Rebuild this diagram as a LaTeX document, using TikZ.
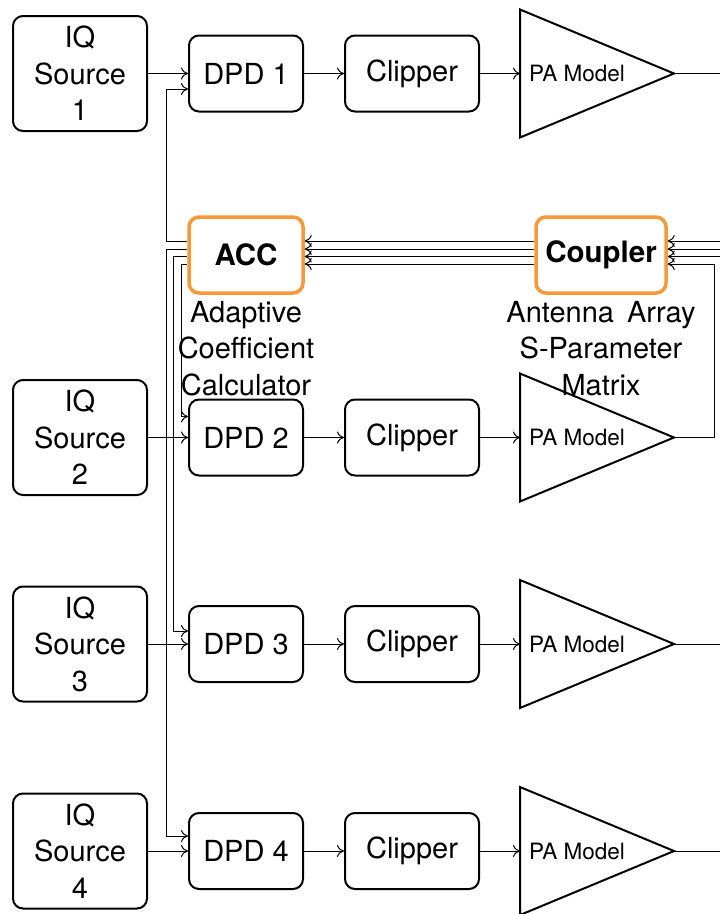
\documentclass[tikz,border=0pt]{standalone}
\usepackage{fontspec}
\setmainfont{TeX Gyre Heros}
\usetikzlibrary{arrows.meta,calc}
\definecolor{accorange}{RGB}{248,152,56}
\begin{document}
\begin{tikzpicture}[x=1pt,y=-1pt,
  bigfont/.style={font=\fontsize{29}{36.5}\selectfont},
  srcbox/.style={draw, line width=2pt, rounded corners=10pt, align=center, bigfont, inner sep=0pt, minimum width=134pt, minimum height=115pt},
  blkbox/.style={draw, line width=2pt, rounded corners=10pt, align=center, bigfont, inner sep=0pt, minimum width=114pt, minimum height=76pt},
  hlbox/.style={draw=accorange, line width=3.5pt, rounded corners=10pt, align=center, font=\fontsize{29.5}{36}\selectfont\bfseries, inner sep=0pt, minimum height=76pt, fill=white},
  lbl/.style={bigfont, align=center, inner sep=0pt, anchor=north},
  conn/.style={line width=1pt, -{To[length=7pt,width=12pt]}},
  wire/.style={line width=1pt},
  tri/.style={draw, line width=2pt, line join=miter}
]
\useasboundingbox (0,0) rectangle (720,914);

\foreach \i/\c in {1/73.5,2/437.5,3/644,4/851} {
  \node[srcbox] (iq\i) at (80,\c) {IQ\\Source\\\i};
  \node[blkbox] (dpd\i) at (246,\c) {DPD \i};
  \node[blkbox, minimum width=134pt] (clip\i) at (412,\c) {Clipper};
  \coordinate (pain\i) at (520,\c);
  \coordinate (paout\i) at (674,\c);
  \draw[tri] (520,\c-64) -- (paout\i) -- (520,\c+64) -- cycle;
  \node[font=\fontsize{22.5}{27}\selectfont, inner sep=0pt] (pa\i) at (577,\c) {PA Model};
  \draw[conn] (iq\i) -- (dpd\i);
  \draw[conn] (dpd\i) -- (clip\i);
  \draw[conn] (clip\i) -- (pain\i);
}
\foreach \i/\c in {1/73.5,3/644,4/851} {
  \coordinate (e\i) at (720,\c);
  \draw[wire] (paout\i) -- (e\i);
}

\node[hlbox, minimum width=114pt] (acc) at (246,255) {ACC};
\node[hlbox, minimum width=130pt] (coupler) at (601,255) {Coupler};
\node[lbl] (acclbl) at (246,301) {Adaptive\\Coefficient\\Calculator};
\node[lbl] (couplbl) at (601,301) {Antenna\hspace{0.45em}Array\\S-Parameter\\Matrix};

\foreach \k/\dy in {1/-14,2/-6,3/1.5,4/9} {
  \coordinate (aw\k) at ($(acc.west)+(0,\dy)$);
  \coordinate (ae\k) at ($(acc.east)+(0,\dy)$);
  \coordinate (cw\k) at ($(coupler.west)+(0,\dy)$);
  \coordinate (ce\k) at ($(coupler.east)+(0,\dy)$);
  \draw[conn] (cw\k) -- (ae\k);
}
\foreach \k/\dy in {1/-14,2/-6,3/1.5} {
  \coordinate (r\k) at ($(720,255)+(0,\dy)$);
  \draw[conn] (r\k) -- (ce\k);
}

% bus x positions
\coordinate (bxa) at (166,0);
\coordinate (bxb) at (173,0);
\coordinate (bxc) at (181,0);
\coordinate (bxr) at (714,0);

\coordinate (d1a) at ($(dpd1.west)+(0,15.5)$);
\coordinate (d2a) at ($(dpd2.west)+(0,-21)$);
\coordinate (d3a) at ($(dpd3.west)+(0,-13)$);
\coordinate (d4a) at ($(dpd4.west)+(0,-15)$);

\draw[conn] (aw1) -| (bxa |- d1a) -- (d1a);
\draw[conn] (aw2) -| (bxa |- d4a) -- (d4a);
\draw[conn] (aw3) -| (bxb |- d3a) -- (d3a);
\draw[conn] (aw4) -| (bxc |- d2a) -- (d2a);

\draw[conn] (paout2) -| (bxr |- ce4) -- (ce4);
\end{tikzpicture}
\end{document}
